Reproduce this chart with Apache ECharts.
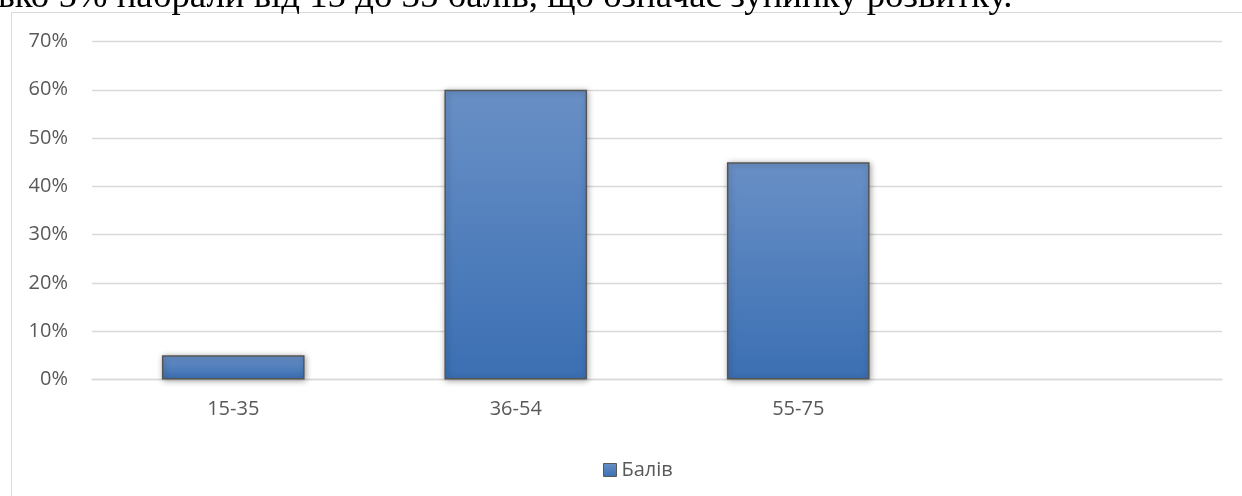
<!DOCTYPE html>
<html>
<head>
<meta charset="utf-8">
<script src="https://cdn.jsdelivr.net/npm/echarts@6/dist/echarts.min.js"></script>
<style>
html,body{margin:0;padding:0;background:#fff;}
#main{width:1242px;height:496px;}
</style>
</head>
<body>
<div id="main"></div>
<script>
const categories = ['15-35', '36-54', '55-75', ''];
const seriesName = 'Балів';
const values = [0.05, 0.60, 0.45, null];
const yTicks = { min: 0, max: 0.7, interval: 0.1 };
const headingText = 'ько 5% набрали від 15 до 35 балів, що означає зупинку розвитку.';

const chart = echarts.init(document.getElementById('main'), null, { renderer: 'canvas' });
const labelFont = '"Open Sans", "Noto Sans", sans-serif';
const headFont = '36.8px "Liberation Serif", "Times New Roman", serif';

chart.setOption({
  backgroundColor: '#ffffff',
  animation: false,
  graphic: [
    {
      type: 'rect',
      shape: { x: 11.5, y: 12.5, width: 1300, height: 600 },
      style: { fill: 'none', stroke: '#d9d9d9', lineWidth: 1 },
      silent: true
    },
    {
      type: 'text', x: -2, y: -3, silent: true,
      style: { text: headingText, font: headFont, fill: '#000000', verticalAlign: 'middle', align: 'left' }
    }
  ],
  grid: { left: 92, right: 20, top: 41.5, bottom: 116.5, containLabel: false },
  legend: {
    data: [seriesName],
    left: 598,
    top: 455,
    itemWidth: 13,
    itemHeight: 13,
    itemGap: 6,
    icon: 'rect',
    textStyle: { color: '#595959', fontSize: 20, fontFamily: labelFont },
    itemStyle: { borderColor: '#595959', borderWidth: 1 }
  },
  xAxis: {
    type: 'category',
    data: categories,
    axisLine: { show: true, lineStyle: { color: '#d9d9d9', width: 1.3 } },
    axisTick: { show: false },
    axisLabel: { color: '#595959', fontSize: 20, fontFamily: labelFont, margin: 20 }
  },
  yAxis: {
    type: 'value',
    min: yTicks.min,
    max: yTicks.max,
    interval: yTicks.interval,
    axisLine: { show: false },
    axisTick: { show: false },
    splitLine: { lineStyle: { color: '#d9d9d9', width: 1.3 } },
    axisLabel: {
      color: '#595959', fontSize: 20, fontFamily: labelFont, margin: 24,
      formatter: v => Math.round(v * 100) + '%'
    }
  },
  series: [{
    name: seriesName,
    type: 'bar',
    data: values,
    barWidth: '50.5%',
    itemStyle: {
      color: new echarts.graphic.LinearGradient(0, 0, 0, 1, [
        { offset: 0, color: '#6990c6' },
        { offset: 1, color: '#3b6fb3' }
      ]),
      borderColor: '#555555',
      borderWidth: 1.5,
      shadowColor: 'rgba(0,0,0,0.35)',
      shadowBlur: 6,
      shadowOffsetX: 1,
      shadowOffsetY: 1
    }
  }]
});
</script>
</body>
</html>
